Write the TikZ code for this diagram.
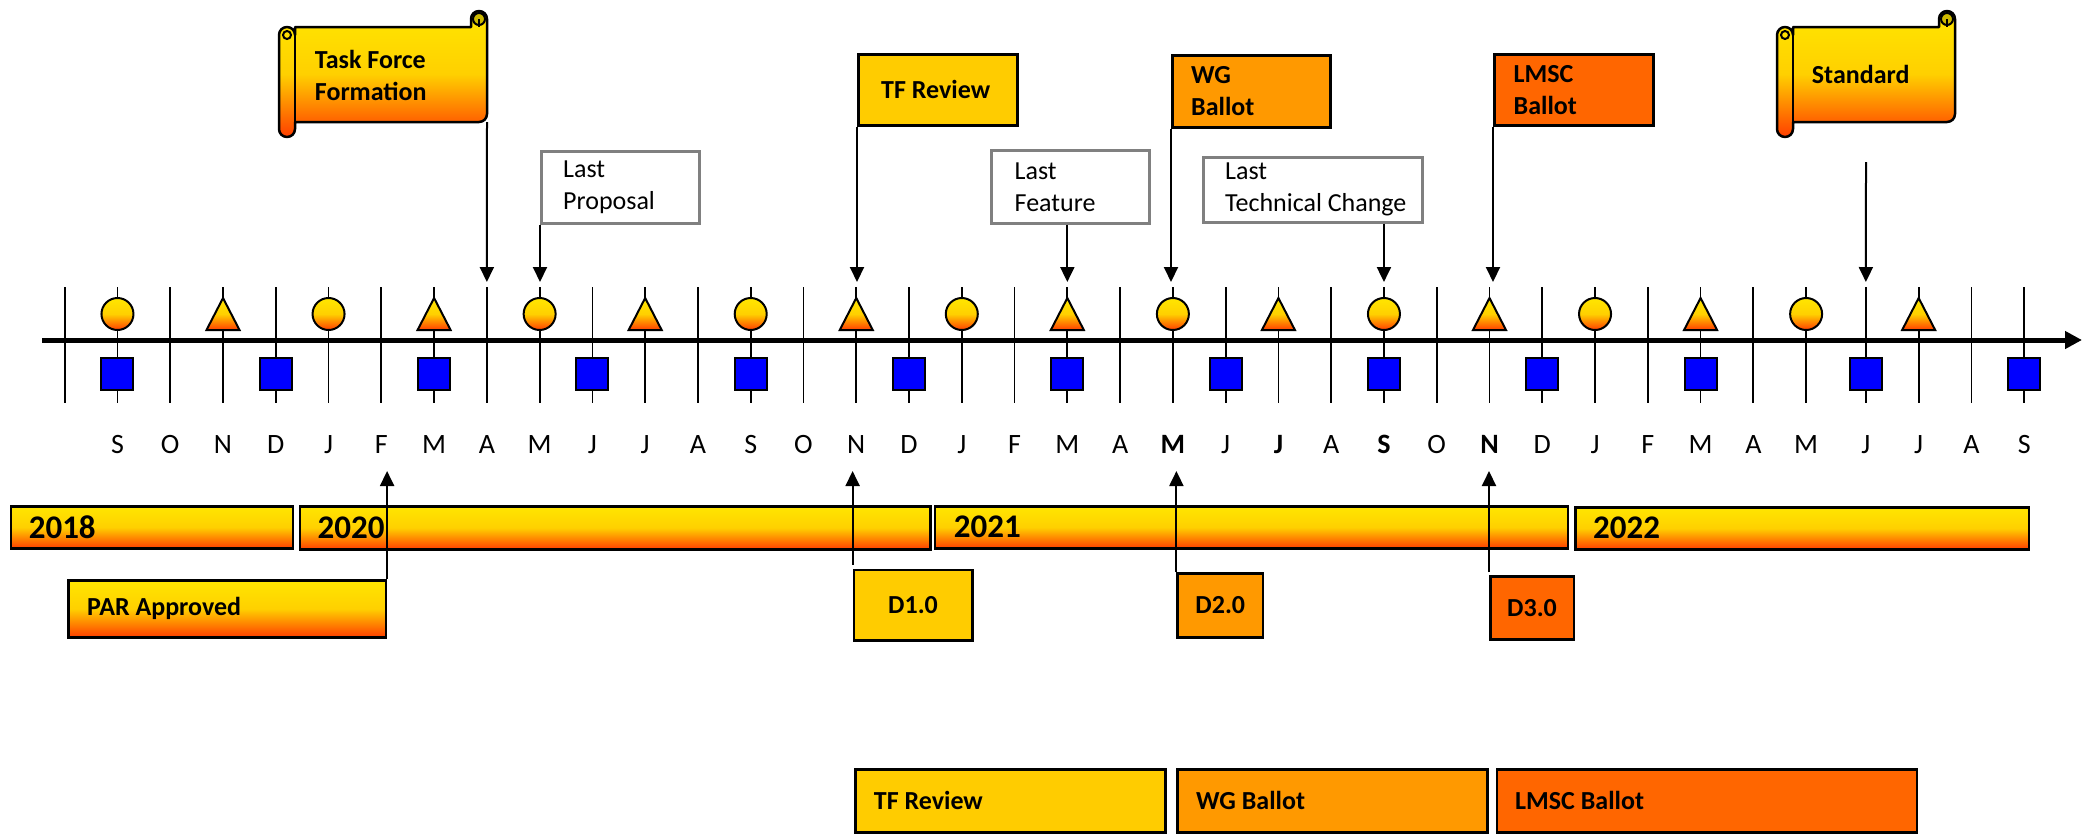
\documentclass[tikz,border=0pt]{standalone}
\usepackage{fontspec}
\setmainfont{Carlito}
\usetikzlibrary{positioning,arrows.meta}

\definecolor{tfgold}{HTML}{FFCC00}
\definecolor{wgorange}{HTML}{FF9900}
\definecolor{lmscred}{HTML}{FF6600}
\definecolor{fireyellow}{RGB}{255,230,0}
\definecolor{fireorange}{RGB}{255,208,0}
\definecolor{firered}{RGB}{255,62,0}
\definecolor{curl}{RGB}{205,185,0}
\definecolor{markblue}{HTML}{0000FF}
\definecolor{notegray}{HTML}{808080}

\tikzset{
  fire/.style={top color=fireyellow, bottom color=firered, middle color=fireorange},
  tick/.style={line width=1.8pt},
  shapeline/.style={draw=black, line width=2pt},
  timeaxis/.style={line width=5pt, -{Stealth[length=17pt,width=17pt,inset=0pt]}},
  pointer/.style={line width=2pt, -{Stealth[length=15pt,width=14pt,inset=0pt]}},
  tagbox/.style={draw=black, line width=2.5pt, anchor=north west, inner sep=0pt,
    font=\bfseries\fontsize{26}{32}\selectfont},
  notebox/.style={draw=notegray, line width=2.5pt, fill=white, anchor=north west, inner sep=0pt},
  tagtext/.style={font=\bfseries\fontsize{26}{32}\selectfont, align=left, inner sep=0pt, anchor=west},
  notetext/.style={font=\fontsize{26}{32}\selectfont, align=left, inner sep=0pt, anchor=west},
  yeartext/.style={font=\bfseries\fontsize{33}{40}\selectfont, inner sep=0pt},
  month/.style={font=\fontsize{28}{34}\selectfont, anchor=base, inner sep=0pt}
}

% scroll banner: x1, y1, x2, y2 of the sheet
\newcommand\scrollbanner[4]{%
  \shadedraw[fire,line width=2.5pt,line join=round]
    (#1+16,#2) -- (#3-16,#2) -- (#3-16,#2-8) arc[start angle=180,end angle=360,radius=8]
    -- (#3,#4-8) arc[start angle=0,end angle=90,radius=8]
    -- (#1+16,#4) -- (#1+16,#4+7) arc[start angle=0,end angle=180,radius=8]
    -- (#1,#2+8) arc[start angle=180,end angle=360,radius=8] -- cycle;
  \draw[line width=2.5pt] (#1+16,#2+8) -- (#1+16,#4);
  \draw[line width=2pt] (#1+8,#2+8) circle[radius=4];
  \filldraw[fill=curl,line width=2pt] (#3-8,#2-8) circle[radius=6];
  \draw[line width=2pt] (#3-8,#2-8) -- (#3-8,#2);
}

\begin{document}
\begin{tikzpicture}[x=1pt,y=-1pt]
\useasboundingbox (0,0) rectangle (2086,836);

% months grid with markers
\foreach \k in {0,...,37}{
  \pgfmathsetmacro\xk{64.7+52.77*\k+7*(\k>33)}
  \pgfmathtruncatemacro\ka{mod(\k,4)}
  \pgfmathtruncatemacro\kb{mod(\k,3)}
  \coordinate (top\k) at (\xk,282);
  \coordinate (low\k) at (\xk,471);
  \draw[tick] (\xk,287) -- (\xk,403);
  \ifnum\k<36 \ifnum\ka=1 \shadedraw[fire,shapeline] (\xk,314) circle[radius=16]; \fi\fi
  \ifnum\ka=3 \shadedraw[fire,shapeline] (\xk,298) -- (\xk+16.5,330) -- (\xk-16.5,330) -- cycle; \fi
  \ifnum\kb=1 \filldraw[fill=markblue,shapeline] (\xk-16,358) rectangle (\xk+16,390); \fi
}
\coordinate (axstart) at (42,340);
\coordinate (axend) at (2082,340);
\draw[timeaxis] (axstart) -- (axend);

\foreach \m [count=\k] in {S,O,N,D,J,F,M,A,M,J,J,A,S,O,N,D,J,F,M,A,\textbf{M},J,\textbf{J},A,\textbf{S},O,\textbf{N},D,J,F,M,A,M,J,J,A,S}{
  \pgfmathsetmacro\xk{64.7+52.77*\k+7*(\k>33)}
  \node[month] (m\k) at (\xk,453.5) {\m};
}

% milestones above the axis
\scrollbanner{279}{27}{487}{122}
\node[tagtext] (tff) at (314.7,75) {Task Force\\Formation};
\coordinate (tffc) at (487,122);
\draw[pointer] (tffc) -- (top8);

\node[notebox, minimum width=158pt, minimum height=72pt] (lp) at (540,150) {};
\node[notetext, right=23pt of lp.west] (lpt) {Last\\Proposal};
\draw[pointer] (lp.south west) -- (lp.south west |- top9);

\node[tagbox, fill=tfgold, minimum width=159pt, minimum height=71pt] (tfrev) at (857,53) {};
\node[tagtext, right=24pt of tfrev.west] (tfrevt) {TF Review};
\draw[pointer] (tfrev.south west) -- (tfrev.south west |- top15);

\node[notebox, minimum width=158pt, minimum height=73pt] (lf) at (990,149) {};
\node[notetext, right=24.5pt of lf.west] (lft) {Last\\Feature};
\draw[pointer] (top19 |- lf.south) -- (top19);

\node[tagbox, fill=wgorange, minimum width=158pt, minimum height=72pt] (wg) at (1171,54) {};
\node[tagtext, right=20pt of wg.west] (wgt) {WG\\Ballot};
\draw[pointer] (wg.south west) -- (wg.south west |- top21);

\node[notebox, minimum width=219pt, minimum height=65pt] (ltc) at (1202,156) {};
\node[notetext, right=23pt of ltc.west] (ltct) {Last\\Technical Change};
\draw[pointer] (top25 |- ltc.south) -- (top25);

\node[tagbox, fill=lmscred, minimum width=159pt, minimum height=71pt] (lmsc) at (1493,53) {};
\node[tagtext, right=20.5pt of lmsc.west] (lmsct) {LMSC\\Ballot};
\draw[pointer] (lmsc.south west) -- (lmsc.south west |- top27);

\scrollbanner{1777}{27}{1955}{122}
\node[tagtext] (std) at (1811.7,74) {Standard};
\coordinate (stdc) at (1866,162);
\draw[pointer] (stdc) -- (top34);

% years
\node[tagbox, fire, minimum width=282pt, minimum height=42pt] (y18) at (9.6,505) {};
\node[yeartext, right=19pt of y18.west] (y18t) {2018};
\node[tagbox, fire, minimum width=630.5pt, minimum height=43pt] (y20) at (298.5,505) {};
\node[yeartext, right=19pt of y20.west] (y20t) {2020};
\node[tagbox, fire, minimum width=633pt, minimum height=42pt] (y21) at (933.7,505) {};
\node[yeartext, right=20pt of y21.west] (y21t) {2021};
\node[tagbox, fire, minimum width=453.7pt, minimum height=42pt] (y22) at (1574,506) {};
\node[yeartext, right=19pt of y22.west] (y22t) {2022};

% drafts below the axis
\node[tagbox, fire, minimum width=317.6pt, minimum height=57pt] (par) at (67,579) {};
\node[tagtext, right=20pt of par.west] (part) {PAR Approved};
\draw[pointer] (par.north east) -- (par.north east |- low6);

\node[tagbox, fill=tfgold, minimum width=118.4pt, minimum height=70.5pt] (d1) at (852.6,568.5) {D1.0};
\draw[pointer] ([yshift=4pt]d1.north west) -- (d1.north west |- low15);
\node[tagbox, fill=wgorange, minimum width=85.3pt, minimum height=64pt] (d2) at (1176.4,572) {D2.0};
\draw[pointer] (d2.north west) -- (d2.north west |- low21);
\node[tagbox, fill=lmscred, minimum width=83.6pt, minimum height=63pt] (d3) at (1489,575) {D3.0};
\draw[pointer] ([yshift=3pt]d3.north west) -- (d3.north west |- low27);

% legend
\node[tagbox, fill=tfgold, minimum width=310pt, minimum height=63pt] (legtf) at (854,768) {};
\node[tagtext, right=19.7pt of legtf.west] (legtft) {TF Review};
\node[tagbox, fill=wgorange, minimum width=310pt, minimum height=63pt] (legwg) at (1176.4,768) {};
\node[tagtext, right=19.6pt of legwg.west] (legwgt) {WG Ballot};
\node[tagbox, fill=lmscred, minimum width=420pt, minimum height=63pt] (leglm) at (1495.5,768) {};
\node[tagtext, right=19.5pt of leglm.west] (leglmt) {LMSC Ballot};
\end{tikzpicture}
\end{document}
